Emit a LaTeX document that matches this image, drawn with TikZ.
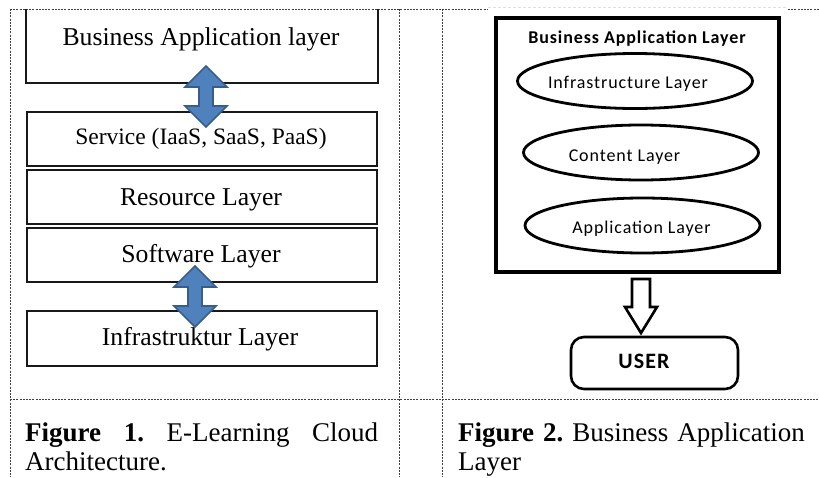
\documentclass[tikz,border=0pt]{standalone}
\usepackage{fontspec}
\setmainfont{Liberation Serif}
\newfontfamily\uisans[LetterSpace=5]{Carlito}
\usetikzlibrary{shapes.geometric}

\definecolor{arrowblue}{HTML}{4F81BD}
\definecolor{arrowedge}{HTML}{385D8A}

\begin{document}
\begin{tikzpicture}[x=1pt,y=-1pt,
  grid/.style={draw=black!75, line width=0.9pt, dash pattern=on 2pt off 1.2pt},
  faint/.style={draw=black!12, line width=0.9pt, dash pattern=on 3pt off 2pt},
  layerbox/.style={draw=black!90, line width=1.6pt, minimum width=350pt, minimum height=54pt, inner sep=0pt},
  serif/.style={font=\fontsize{25.7}{28}\selectfont, anchor=base, inner sep=0pt},
  blockarrow/.style={fill=arrowblue, draw=arrowedge, line width=1.6pt, line join=miter},
  oval/.style={ellipse, draw, line width=2.8pt, minimum width=235pt, minimum height=55pt, inner sep=0pt},
  ui/.style={font=\uisans\fontsize{18}{20}\selectfont, anchor=base, inner sep=0pt},
  caption/.style={font=\frenchspacing\fontsize{27}{29}\selectfont, anchor=north west, inner sep=0pt},
  pics/dblarrow/.style={code={
    \draw[blockarrow] (0,-30.5) -- (21,-9.5) -- (7,-9.5) -- (7,9.5) -- (21,9.5)
      -- (0,30.5) -- (-21,9.5) -- (-7,9.5) -- (-7,-9.5) -- (-21,-9.5) -- cycle;
  }}
]
\useasboundingbox (0,0) rectangle (819,477);

% table frame
\draw[grid] (10,9) -- (488,9);
\draw[faint] (488,7) -- (788,7);
\draw[grid] (788,9) -- (819,9);
\draw[grid] (10,9) -- (10,477);
\draw[grid] (399,9) -- (399,477);
\draw[grid] (442,9) -- (442,477);
\draw[grid] (10,399) -- (819,399);

% ---- left: layered architecture ----
\node[layerbox, draw=none, minimum height=72pt] (bal) at (202,46) {};
\draw[black!90, line width=1.6pt] (bal.north west) -- (bal.south west) -- (bal.south east) -- (bal.north east);
\node[layerbox] (svc) at (202,139) {};
\node[layerbox] (res) at (202,197) {};
\node[layerbox] (sw)  at (202,255) {};
\node[layerbox, minimum height=55pt] (inf) at (202,338.5) {};

\node[serif] (tbal) at (201,45) {Business Application layer};
\node[serif, font=\fontsize{23.5}{26}\selectfont] (tsvc) at (201,144) {Service (IaaS, SaaS, PaaS)};
\node[serif] (tres) at (201,205) {Resource Layer};
\node[serif] (tsw)  at (201,262) {Software Layer};
\node[serif] (tinf) at (200,345) {Infrastruktur Layer};

\pic at (206,96.5) {dblarrow};
\pic at (195,296.5) {dblarrow};

% ---- right: business application layer ----
\node[draw, line width=3.2pt, minimum width=283pt, minimum height=254pt, inner sep=0pt] (box) at (637.5,145) {};
\node[ui, font=\uisans\bfseries\fontsize{18}{20}\selectfont] (title) at (637,43) {Business Application Layer};

\node[oval] (e1) at (635,81) {};
\node[oval] (e2) at (641,152.5) {};
\node[oval] (e3) at (642.5,225.5) {};
\node[ui] (t1) at (628,88) {Infrastructure Layer};
\node[ui] (t2) at (624.5,161) {Content Layer};
\node[ui] (t3) at (641.5,233) {Application Layer};

\node[draw, line width=2.6pt, rounded corners=13pt, minimum width=167pt, minimum height=52pt, inner sep=0pt] (user) at (654.5,363) {};
\node[ui, font=\uisans\bfseries\fontsize{22}{24}\selectfont] (tuser) at (644,368) {USER};

\draw[line width=2.6pt, line join=miter, fill=white]
  (632,279) -- (650,279) -- (650,307) -- (657,307) -- (641,333) -- (625,307) -- (632,307) -- cycle;

% ---- captions ----
\node[caption, text width=353pt, align=justify] (cap1) at (25,423)
  {\textbf{Figure 1.} E-Learning Cloud\linebreak Architecture.};
\node[caption, text width=360pt, align=left] (cap2) at (458,423)
  {\textbf{Figure 2.} Business Application\\Layer};
\end{tikzpicture}
\end{document}
